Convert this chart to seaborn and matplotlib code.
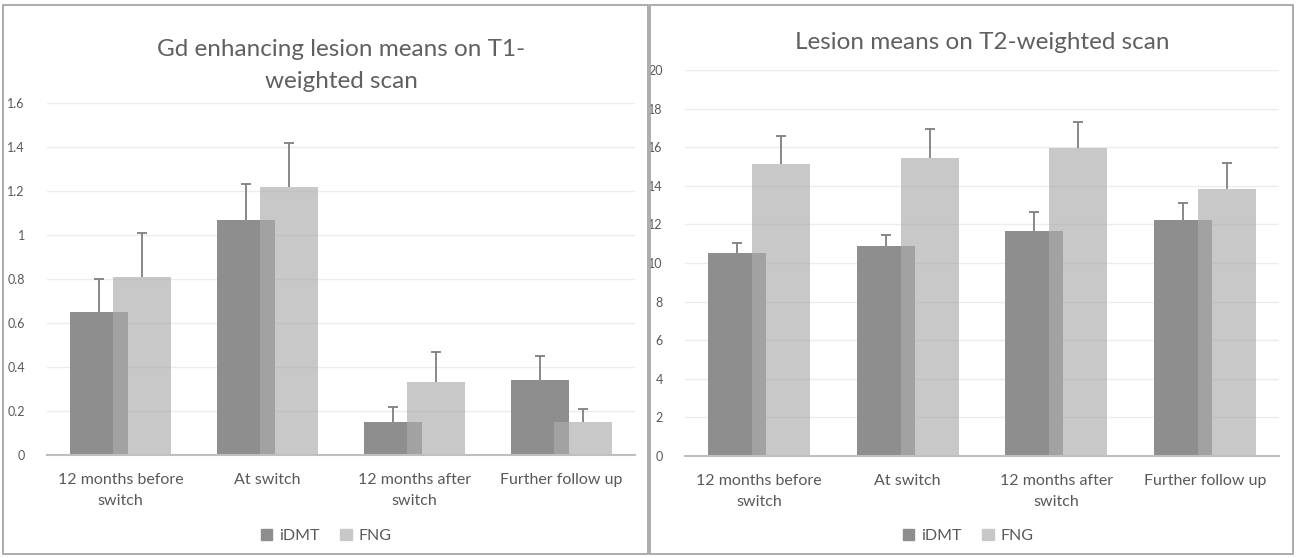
import seaborn as sns
import matplotlib.pyplot as plt
import matplotlib.patches as mpatches
import pandas as pd
import numpy as np

# ---- data ----
periods = ["12 months before\nswitch", "At switch", "12 months after\nswitch", "Further follow up"]
groups = ["iDMT", "FNG"]

t1_idmt = [0.65, 1.07, 0.15, 0.34]
t1_idmt_err = [0.15, 0.16, 0.07, 0.11]
t1_fng = [0.81, 1.22, 0.33, 0.15]
t1_fng_err = [0.20, 0.20, 0.14, 0.06]

t2_idmt = [10.5, 10.9, 11.65, 12.25]
t2_idmt_err = [0.55, 0.55, 1.0, 0.85]
t2_fng = [15.15, 15.45, 15.95, 13.85]
t2_fng_err = [1.45, 1.5, 1.35, 1.35]

t1_ticks = [0, 0.2, 0.4, 0.6, 0.8, 1, 1.2, 1.4, 1.6]
t1_ticklabels = ["0", "0.2", "0.4", "0.6", "0.8", "1", "1.2", "1.4", "1.6"]
t2_ticks = list(range(0, 21, 2))

# ---- style ----
sns.set_theme(style="white")
plt.rcParams["font.family"] = ["Lato", "DejaVu Sans"]
TXT = "#595959"
C_IDMT = "#8e8e8e"
C_FNG = "#adadad"
BAR_W = 0.39
OFFSET = 0.147

fig = plt.figure(figsize=(12.96, 5.58), dpi=100)

# panel borders
for x0, x1 in [(3, 648), (650, 1293)]:
    fig.patches.append(mpatches.Rectangle(
        (x0 / 1296, 4 / 558), (x1 - x0) / 1296, 549 / 558,
        transform=fig.transFigure, fill=False, edgecolor="#a6a6a6", lw=1.3))

ax1 = fig.add_axes([47 / 1296, 103 / 558, 588 / 1296, 352 / 558])
ax2 = fig.add_axes([685 / 1296, 102 / 558, 594 / 1296, 386 / 558])


def up_errbar(ax, x, y, err):
    eb = ax.errorbar(x, y, yerr=[np.zeros(len(err)), err], fmt="none",
                     ecolor="#7f7f7f", elinewidth=1.3, capsize=3.5,
                     capthick=1.3, zorder=4)
    # hide the cap sitting on top of the bar
    eb[1][0].set_visible(False)


def draw(ax, idmt, idmt_err, fng, fng_err, title, ylim, ticks, ticklabels,
         panel_cx, title_pad):
    idx = np.arange(len(periods))
    df = pd.DataFrame({
        "x": np.concatenate([idx - OFFSET, idx + OFFSET]),
        "value": idmt + fng,
        "group": [groups[0]] * len(idmt) + [groups[1]] * len(fng),
    })
    sub_i = df[df.group == "iDMT"]
    sub_f = df[df.group == "FNG"]
    sns.barplot(data=sub_i, x="x", y="value", native_scale=True, width=BAR_W,
                color=C_IDMT, saturation=1, ax=ax, errorbar=None, zorder=2)
    sns.barplot(data=sub_f, x="x", y="value", native_scale=True, width=BAR_W,
                color=C_FNG, saturation=1, ax=ax, errorbar=None, alpha=0.67, zorder=3)
    for p in ax.patches:
        p.set_edgecolor("none")
    up_errbar(ax, sub_i.x, sub_i.value, idmt_err)
    up_errbar(ax, sub_f.x, sub_f.value, fng_err)

    ax.set_xlim(-0.5, len(periods) - 0.5)
    ax.set_ylim(*ylim)
    ax.set_xticks(idx)
    ax.set_xticklabels(periods, fontsize=11.5, color=TXT, linespacing=1.6)
    ax.set_yticks(ticks)
    ax.set_yticklabels(ticklabels, fontsize=9, color=TXT)
    ax.tick_params(axis="x", length=0, pad=13)
    ax.tick_params(axis="y", length=0, pad=16)
    ax.yaxis.grid(True, color="#ececec", lw=1)
    ax.set_axisbelow(True)
    for s in ["top", "right", "left"]:
        ax.spines[s].set_visible(False)
    ax.spines["bottom"].set_color("#bfbfbf")
    ax.spines["bottom"].set_linewidth(1.5)
    ax.spines["bottom"].set_zorder(5)
    ax.set_xlabel("")
    ax.set_ylabel("")
    ax.set_title(title, fontsize=17.5, color="#606060", fontweight="normal",
                 linespacing=1.65, pad=title_pad)

    handles = [mpatches.Patch(color=C_IDMT, label="iDMT"),
               mpatches.Patch(color="#c8c8c8", label="FNG")]
    fig.legend(handles=handles, loc="center", bbox_to_anchor=(panel_cx, 22 / 558),
               ncol=2, frameon=False, fontsize=11.5, labelcolor=TXT,
               handlelength=0.75, handleheight=0.75, handletextpad=0.4,
               columnspacing=1.3)


draw(ax1, t1_idmt, t1_idmt_err, t1_fng, t1_fng_err,
     "Gd enhancing lesion means on T1-\nweighted scan", (0, 1.6),
     t1_ticks, t1_ticklabels, 326 / 1296, 11)
draw(ax2, t2_idmt, t2_idmt_err, t2_fng, t2_fng_err,
     "Lesion means on T2-weighted scan", (0, 20),
     t2_ticks, [str(t) for t in t2_ticks], 968 / 1296, 15)

fig.savefig("out.png", dpi=100)
